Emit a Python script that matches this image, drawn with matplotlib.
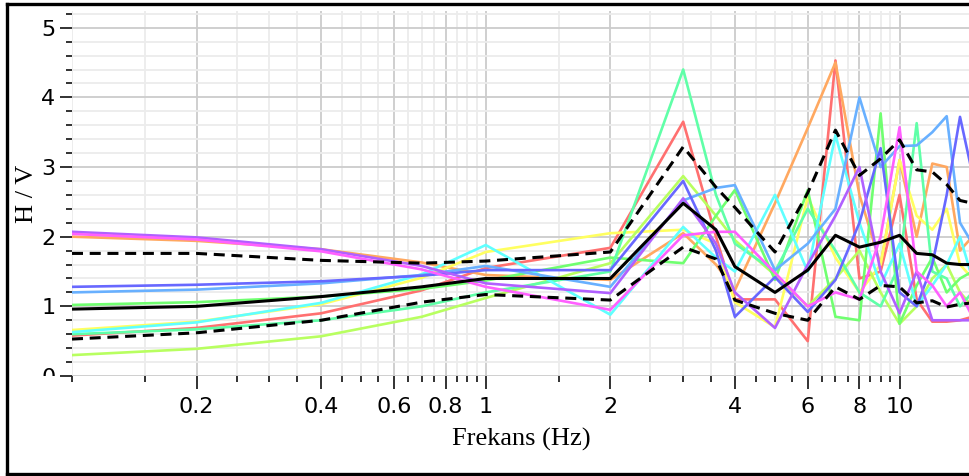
import numpy as np
import matplotlib.pyplot as plt
from matplotlib.lines import Line2D
from matplotlib.transforms import Bbox

# frekans noktalari (Hz)
frek = [0.1, 0.2, 0.4, 0.7, 1, 2, 3, 3.6, 4, 5, 6, 7, 8, 9, 10, 11, 12, 13, 14, 15]

# her kayit icin H/V egrisi
hv_kirmizi = [0.58, 0.69, 0.90, 1.23, 1.55, 1.84, 3.65, 2.00, 1.10, 1.10, 0.50, 4.53, 1.40, 1.50, 2.60, 1.10, 0.78, 0.78, 0.80, 0.85]
hv_turuncu = [2.00, 1.94, 1.82, 1.63, 1.45, 1.38, 2.05, 1.60, 1.23, 2.48, 3.56, 4.50, 2.60, 1.60, 3.10, 2.00, 3.05, 3.00, 1.80, 2.00]
hv_sari = [0.66, 0.78, 1.03, 1.41, 1.78, 2.05, 2.10, 1.90, 1.06, 0.70, 2.57, 1.70, 1.20, 1.60, 3.10, 2.30, 2.10, 2.40, 1.60, 1.40]
hv_limon = [0.30, 0.39, 0.57, 0.85, 1.12, 1.62, 2.87, 2.30, 1.95, 1.45, 1.00, 1.40, 1.80, 1.20, 0.75, 1.00, 1.40, 1.60, 1.20, 1.00]
hv_yesil = [1.02, 1.06, 1.14, 1.25, 1.37, 1.70, 1.62, 2.30, 2.67, 1.38, 2.67, 0.85, 0.80, 3.77, 0.75, 1.30, 1.70, 1.20, 1.40, 1.50]
hv_cimen = [0.60, 0.67, 0.80, 1.00, 1.20, 1.50, 4.40, 2.60, 1.90, 1.50, 2.40, 1.80, 1.20, 1.00, 1.60, 3.63, 1.50, 1.40, 1.00, 1.20]
hv_camgobegi = [0.63, 0.77, 1.05, 1.46, 1.88, 0.88, 2.14, 1.70, 1.50, 2.60, 1.50, 3.46, 2.20, 1.30, 1.90, 1.00, 1.30, 1.60, 2.00, 1.40]
hv_acikmavi = [1.20, 1.24, 1.33, 1.45, 1.58, 1.28, 2.52, 2.70, 2.74, 1.52, 1.90, 2.40, 4.00, 3.00, 3.30, 3.31, 3.50, 3.73, 2.20, 1.90]
hv_mavi = [1.28, 1.31, 1.36, 1.44, 1.52, 1.52, 2.80, 1.80, 0.85, 1.42, 0.92, 1.38, 2.20, 3.27, 1.20, 1.00, 1.60, 2.60, 3.72, 2.90]
hv_mor = [2.07, 1.99, 1.82, 1.58, 1.33, 1.19, 2.55, 1.90, 1.20, 0.69, 1.60, 2.30, 3.00, 1.50, 0.90, 1.50, 0.80, 0.80, 0.80, 0.80]
hv_pembe = [2.04, 1.96, 1.79, 1.53, 1.28, 0.95, 2.02, 2.07, 2.07, 1.48, 1.00, 1.20, 1.10, 2.00, 3.57, 1.50, 1.30, 1.00, 1.20, 0.85]

# ortalama ve +/- bir standart sapma
hv_ort = [0.96, 1.00, 1.14, 1.28, 1.40, 1.40, 2.48, 2.10, 1.57, 1.20, 1.52, 2.02, 1.85, 1.92, 2.02, 1.76, 1.74, 1.62, 1.60, 1.60]
hv_ust = [1.76, 1.76, 1.66, 1.62, 1.65, 1.78, 3.29, 2.71, 2.42, 1.78, 2.63, 3.53, 2.88, 3.12, 3.39, 2.96, 2.93, 2.75, 2.52, 2.48]
hv_alt = [0.53, 0.62, 0.80, 1.06, 1.17, 1.09, 1.85, 1.68, 1.09, 0.90, 0.80, 1.28, 1.10, 1.30, 1.28, 1.05, 1.08, 0.99, 1.03, 1.05]

egriler = [hv_kirmizi, hv_turuncu, hv_sari, hv_limon, hv_yesil, hv_cimen,
           hv_camgobegi, hv_acikmavi, hv_mavi, hv_mor, hv_pembe]
renkler = ['#ff7070', '#ffa860', '#ffff60', '#b8ff60', '#70ff70', '#60ffa8',
           '#60ffff', '#68b0ff', '#6868ff', '#b060ff', '#ff60ff']

fig = plt.figure(figsize=(9.7, 4.76), dpi=100)
ax = fig.add_axes([72 / 970, 100 / 476, 898 / 970, 365 / 476])

for hv, renk in zip(egriler, renkler):
    ax.plot(frek, hv, color=renk, lw=1.9)

ax.plot(frek, hv_ort, color='black', lw=2.2)
ax.plot(frek, hv_ust, color='black', lw=2.2, ls=(0, (3.6, 2.2)))
ax.plot(frek, hv_alt, color='black', lw=2.2, ls=(0, (3.6, 2.2)))

ax.set_xscale('log')
ax.set_xlim(0.1, 14.8)
ax.set_ylim(0, 5.24)

ana_x = [0.2, 0.4, 0.6, 0.8, 1, 2, 4, 6, 8, 10]
ara_x = [0.1, 0.15, 0.25, 0.3, 0.35, 0.45, 0.5, 0.55, 0.65, 0.7, 0.75, 0.85, 0.9, 0.95,
         1.5, 2.5, 3, 3.5, 4.5, 5, 5.5, 6.5, 7, 7.5, 8.5, 9, 9.5]
ax.set_xticks(ana_x)
ax.set_xticklabels(['%g' % v for v in ana_x])
ax.set_xticks(ara_x, minor=True)
ax.set_xticklabels([], minor=True)
ax.set_yticks(range(6))
ax.set_yticks(np.arange(0, 5.3, 0.2), minor=True)

ax.grid(which='major', color='#cccccc', lw=1.3)
ax.grid(which='minor', color='#ececec', lw=1.3)
ax.set_axisbelow(True)

for s in ax.spines.values():
    s.set_visible(False)
ax.tick_params(which='major', length=9, width=1.3, color='#222222', labelsize=16)
ax.tick_params(axis='x', which='major', pad=6)
ax.tick_params(axis='y', which='major', pad=3)
ax.tick_params(which='minor', length=4, width=1.3, color='#222222')

# sifir etiketinin alt kismi eksen cizgisinde kesiliyor
sifir = ax.yaxis.get_major_ticks()[0].label1
sifir.set_clip_box(Bbox.from_extents(0, 100, 970, 476))
sifir.set_clip_on(True)

ax.set_xlabel('Frekans (Hz)', family='Liberation Serif', fontsize=19, labelpad=8)
ax.set_ylabel('H / V', family='Liberation Serif', fontsize=19, labelpad=2)

# cerceve (sag kenar disarida kaliyor)
sol, ust, alt = 7.5 / 970, 472.5 / 476, 2.5 / 476
for xs, ys in [([sol, sol], [alt, ust]), ([sol, 1.0], [ust, ust]), ([sol, 1.0], [alt, alt])]:
    fig.add_artist(Line2D(xs, ys, transform=fig.transFigure, color='black', lw=2.4,
                          solid_capstyle='projecting'))

fig.savefig('out.png', dpi=100)
